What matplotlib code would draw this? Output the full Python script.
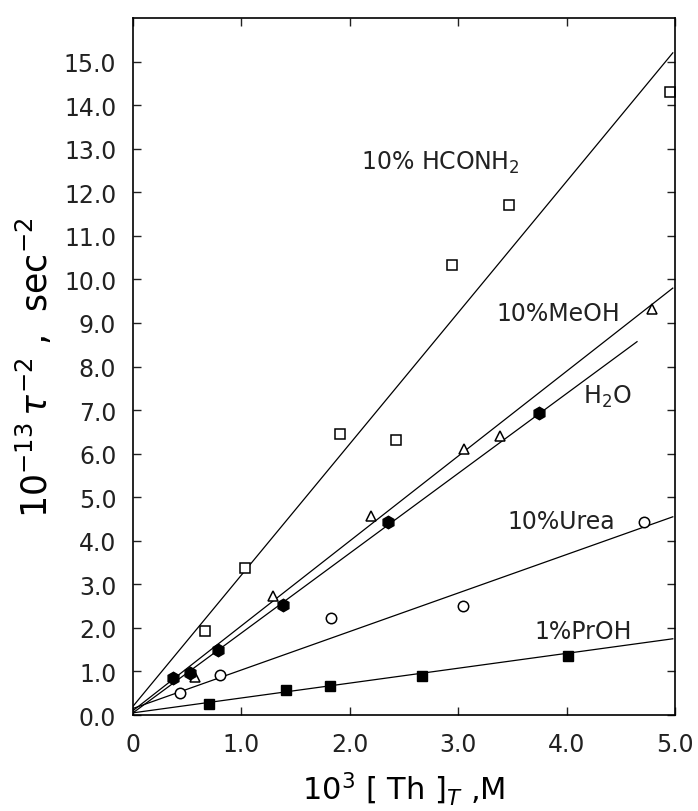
import matplotlib
matplotlib.use("Agg")
import matplotlib.pyplot as plt
import numpy as np

# data: 10^3 [Th]_T (M) vs 10^-13 tau^-2 (sec^-2)
hconh2_x = [0.66, 1.03, 1.91, 2.43, 2.94, 3.47, 4.95]
hconh2_y = [1.93, 3.38, 6.46, 6.32, 10.32, 11.70, 14.30]

meoh_x = [0.57, 1.29, 2.20, 3.05, 3.39, 4.79]
meoh_y = [0.87, 2.74, 4.57, 6.11, 6.41, 9.33]

h2o_x = [0.37, 0.53, 0.78, 1.38, 2.35, 3.75]
h2o_y = [0.85, 0.97, 1.49, 2.53, 4.44, 6.94]

urea_x = [0.43, 0.80, 1.83, 3.04, 4.71]
urea_y = [0.50, 0.92, 2.23, 2.50, 4.44]

proh_x = [0.70, 1.41, 1.82, 2.67, 4.01]
proh_y = [0.25, 0.57, 0.67, 0.90, 1.36]

# fitted straight lines: (x start, y start, x end, y end)
fit_hconh2 = [0.0, 0.20, 4.98, 15.20]
fit_meoh = [0.0, 0.10, 4.98, 9.80]
fit_h2o = [0.0, 0.05, 4.65, 8.57]
fit_urea = [0.0, 0.15, 4.98, 4.55]
fit_proh = [0.0, 0.05, 4.98, 1.75]

xticks = [0, 1, 2, 3, 4, 5]
xticklabels = ["0", "1.0", "2.0", "3.0", "4.0", "5.0"]
yticks = list(range(0, 16))
yticklabels = ["%d.0" % v for v in yticks]

plt.rcParams['font.family'] = ['DejaVu Sans']
fig = plt.figure(figsize=(6.98, 8.12), dpi=100)
ax = fig.add_axes([0.1905, 0.1182, 0.7765, 0.8584])

for f in [fit_hconh2, fit_meoh, fit_h2o, fit_urea, fit_proh]:
    ax.plot([f[0], f[2]], [f[1], f[3]], color='k', lw=0.9)

ax.plot(hconh2_x, hconh2_y, 's', ms=6.5, mfc='white', mec='k', mew=1.1, ls='none')
ax.plot(meoh_x, meoh_y, '^', ms=7, mfc='white', mec='k', mew=1.1, ls='none')
ax.plot(h2o_x, h2o_y, 'h', ms=9, mfc='k', mec='k', ls='none')
ax.plot(urea_x, urea_y, 'o', ms=7.5, mfc='white', mec='k', mew=1.1, ls='none')
ax.plot(proh_x, proh_y, 's', ms=7, mfc='k', mec='k', ls='none')

lab = dict(fontsize=17, color='#222222', va='center', ha='left')
ax.text(2.10, 12.7, r"10% HCONH$_2$", **lab)
ax.text(3.35, 9.22, "10%MeOH", **lab)
ax.text(4.15, 7.33, r"H$_2$O", **lab)
ax.text(3.45, 4.46, "10%Urea", **lab)
ax.text(3.70, 1.93, "1%PrOH", **lab)

ax.set_xlim(0, 5.0)
ax.set_ylim(0, 16.0)
ax.set_xticks(xticks)
ax.set_xticklabels(xticklabels)
ax.set_yticks(yticks)
ax.set_yticklabels(yticklabels)
ax.tick_params(direction='in', top=True, right=True, length=6, width=1,
               labelsize=17, pad=12, colors='#222222')
for s in ax.spines.values():
    s.set_linewidth(1.2)

ax.set_xlabel(r"$10^3$ [ Th ]$_T$ ,M", fontsize=22, labelpad=10)
ax.set_ylabel(r"$10^{-13}\,\tau^{-2}$ ,  sec$^{-2}$", fontsize=25, labelpad=6)

fig.savefig("out.png", dpi=100)
